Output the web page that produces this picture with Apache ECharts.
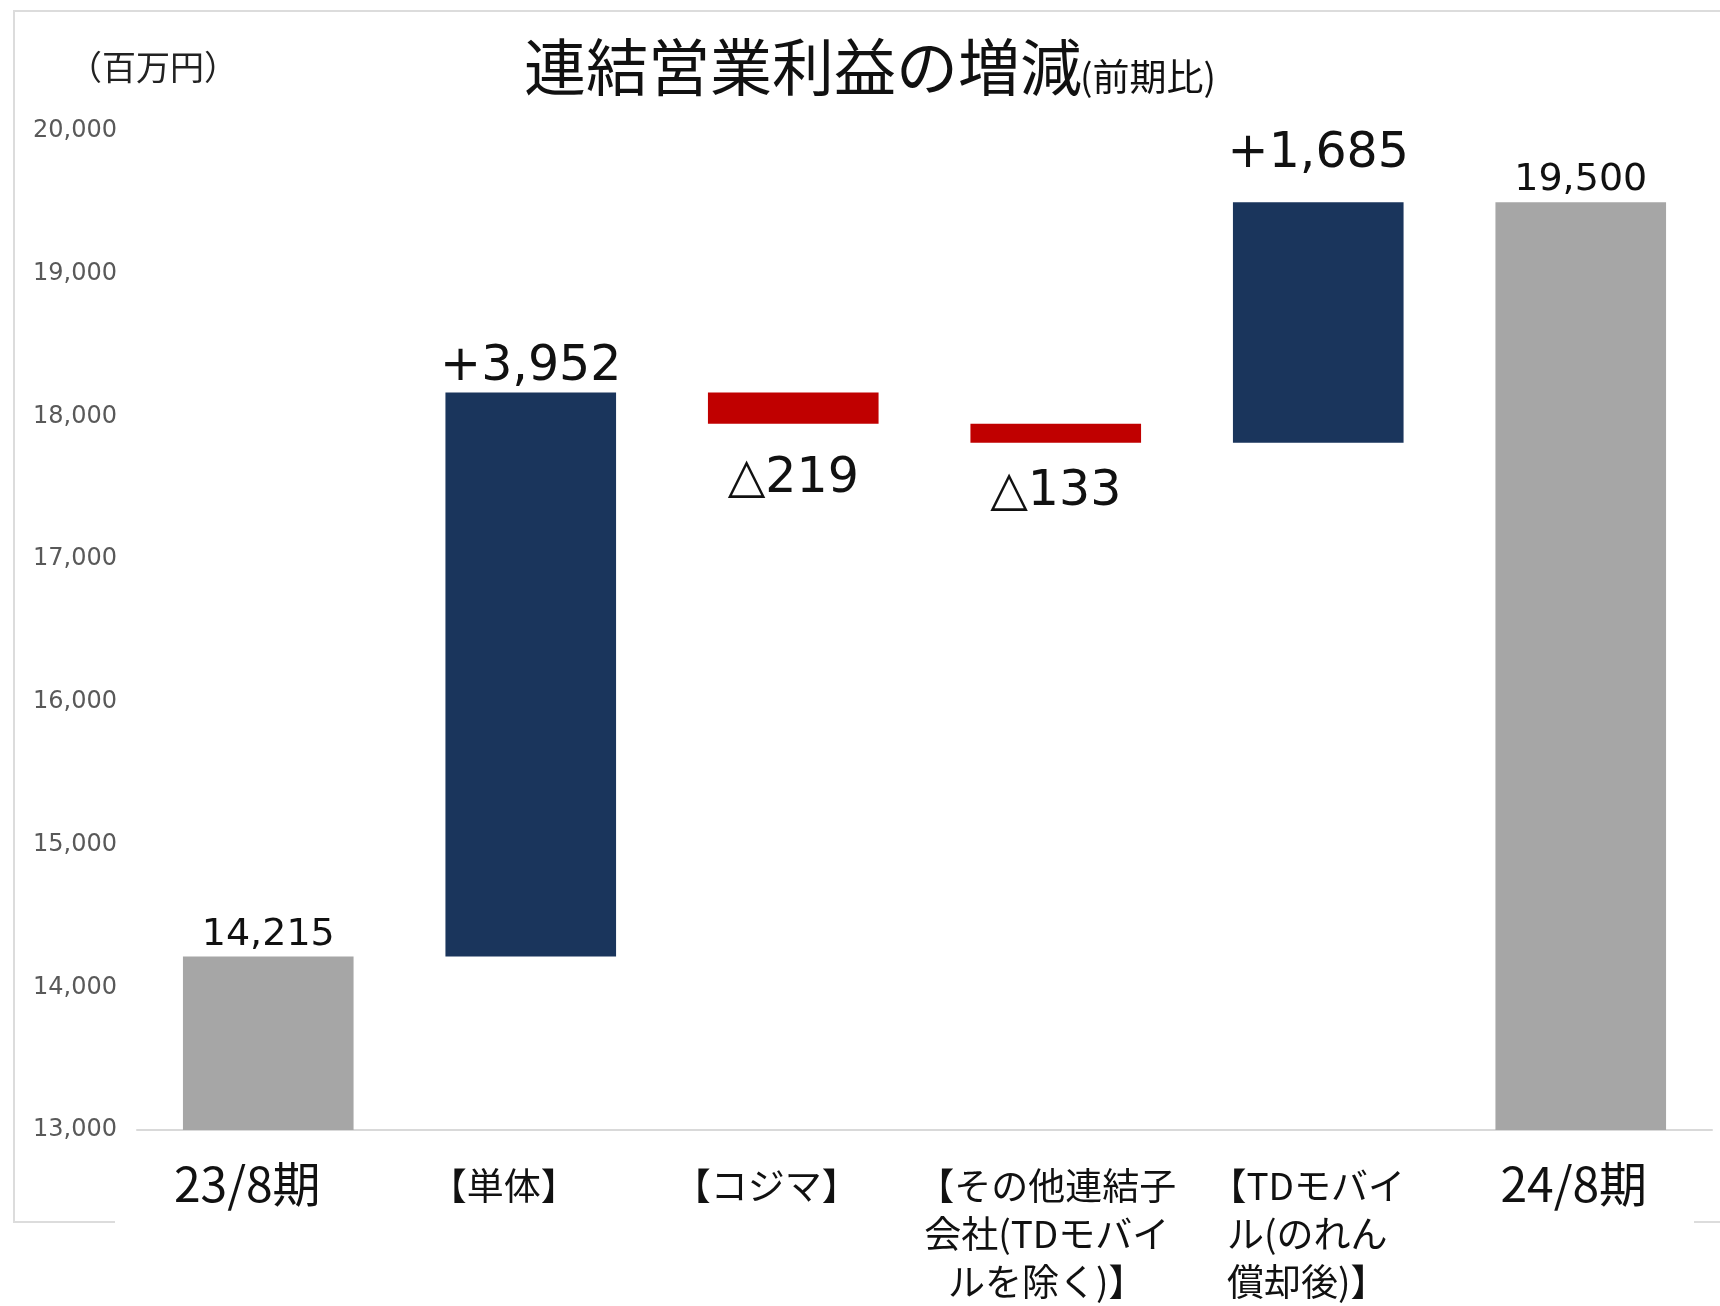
<!DOCTYPE html>
<html>
<head>
<meta charset="utf-8">
<script src="https://cdn.jsdelivr.net/npm/echarts@6/dist/echarts.min.js"></script>
<style>
html,body{margin:0;padding:0;background:#fff;}
#chart{width:1720px;height:1306px;}
</style>
</head>
<body>
<div id="chart"></div>
<script>
// ---- data ----
const categories = ['23/8期', '【単体】', '【コジマ】', '【その他連結子\n会社(TDモバイ\nルを除く)】', '【TDモバイ\nル(のれん\n償却後)】', '24/8期'];
const changes = [14215, 3952, -219, -133, 1685, 19500];
const kinds = ['total', 'delta', 'delta', 'delta', 'delta', 'total'];
const valueLabels = ['14,215', '+3,952', '△219', '△133', '+1,685', '19,500'];
const yMin = 13000, yMax = 20000, yStep = 1000;
const titleText = '連結営業利益の増減';
const subTitleText = '(前期比)';
const unitText = '（百万円）';

// ---- layout / style constants ----
const labelDistances = [2, 1, 31, 25, 24, 3];
const catShift = [42, 54, 54, 18, 22, 14];      // right padding to nudge labels left
const catTopPad = [0, 6, 6, 6, 6, 0];
const catFont = [48, 37, 37, 37, 37, 48];
const COLORS = { total: '#a6a6a6', up: '#1a355c', down: '#c00000' };

// ---- build waterfall ----
let running = 0;
const baseData = [], visData = [];
changes.forEach((v, i) => {
  if (kinds[i] === 'total') {
    baseData.push('-');
    running = v;
    visData.push({ value: v, kind: 'total', idx: i });
  } else {
    const start = running, end = running + v;
    baseData.push(Math.min(start, end));
    visData.push({ value: Math.abs(v), kind: v >= 0 ? 'up' : 'down', idx: i });
    running = end;
  }
});

const seriesData = visData.map(d => {
  const isDown = d.kind === 'down';
  return {
    value: d.value,
    itemStyle: { color: COLORS[d.kind] },
    label: {
      show: true,
      position: isDown ? 'bottom' : 'top',
      distance: labelDistances[d.idx],
      formatter: valueLabels[d.idx],
      fontSize: d.kind === 'total' ? 38 : 49,
      fontFamily: '"DejaVu Sans", "Noto Sans CJK JP", sans-serif',
      color: '#111'
    }
  };
});

const catData = categories.map((c, i) => ({
  value: c,
  textStyle: {
    fontSize: catFont[i],
    lineHeight: catFont[i] === 48 ? 56 : 48,
    padding: [catTopPad[i], catShift[i], 0, 0]
  }
}));

const chart = echarts.init(document.getElementById('chart'), null, { renderer: 'canvas' });
chart.setOption({
  backgroundColor: '#ffffff',
  animation: false,
  grid: { left: 137, right: 8, top: 131, bottom: 175, containLabel: false },
  xAxis: {
    type: 'category',
    data: catData,
    axisLine: { show: true, lineStyle: { color: '#d9d9d9', width: 2 } },
    axisTick: { show: false },
    axisLabel: {
      interval: 0,
      margin: 26,
      color: '#111',
      fontFamily: '"Noto Sans CJK JP", sans-serif'
    }
  },
  yAxis: {
    type: 'value',
    min: yMin, max: yMax, interval: yStep,
    splitLine: { show: false },
    axisLine: { show: false },
    axisTick: { show: false },
    axisLabel: {
      margin: 20,
      fontSize: 24,
      color: '#595959',
      fontFamily: '"DejaVu Sans", sans-serif',
      formatter: v => v.toLocaleString('en-US')
    }
  },
  series: [
    {
      name: 'base', type: 'bar', stack: 'w', data: baseData,
      itemStyle: { color: 'transparent' }, barWidth: '65%', silent: true
    },
    {
      name: 'value', type: 'bar', stack: 'w', data: seriesData, barWidth: '65%'
    }
  ],
  graphic: [
    { type: 'polyline', shape: { points: [[115, 1222], [14, 1222], [14, 11], [1720, 11]] },
      style: { stroke: '#dcdcdc', lineWidth: 2, fill: null }, silent: true },
    { type: 'line', shape: { x1: 1694, y1: 1222, x2: 1720, y2: 1222 },
      style: { stroke: '#dcdcdc', lineWidth: 2 }, silent: true },
    { type: 'text', style: { text: unitText, x: 153, y: 67, textAlign: 'center', textVerticalAlign: 'middle',
      font: '34px "Noto Sans CJK JP"', fill: '#222' } },
    { type: 'text', style: { text: titleText, x: 524, y: 67, textAlign: 'left', textVerticalAlign: 'middle',
      font: '62px "Noto Sans CJK JP"', fill: '#111' } },
    { type: 'text', style: { text: subTitleText, x: 1080, y: 77, textAlign: 'left', textVerticalAlign: 'middle',
      font: '37px "Noto Sans CJK JP"', fill: '#111' } }
  ]
});
</script>
</body>
</html>
